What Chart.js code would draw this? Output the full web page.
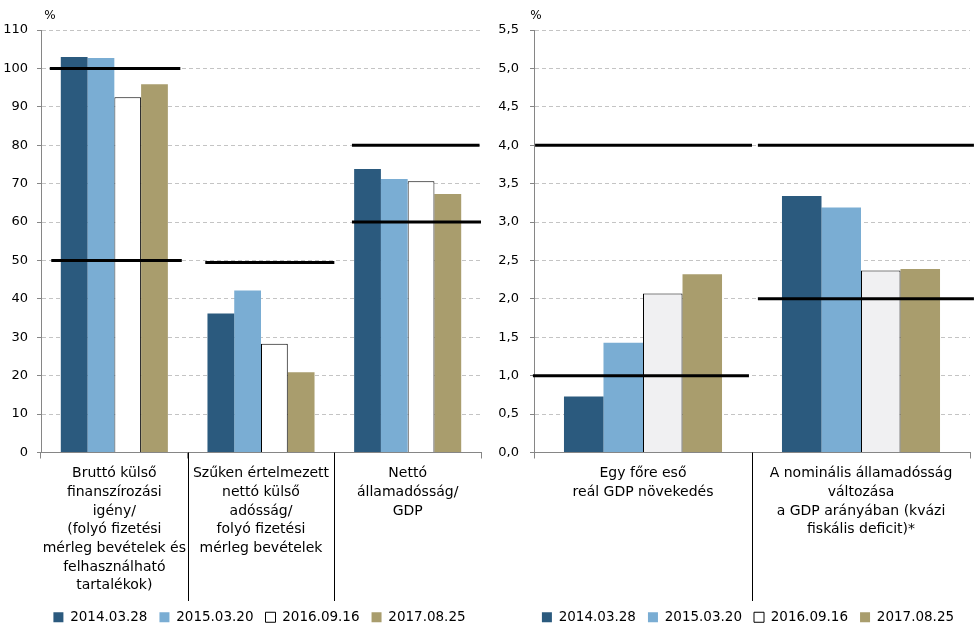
<!DOCTYPE html>
<html lang="hu">
<head>
    <meta charset="UTF-8">
    <title>Indikátorok</title>
    <script src="https://cdn.jsdelivr.net/npm/chart.js"></script>
    <style>
        body {
            margin: 0;
            background: #ffffff;
            font-family: "DejaVu Sans", sans-serif;
        }
        .panel {
            position: absolute;
            top: 0;
            height: 637px;
        }
        #leftPanel { left: 0; width: 490px; }
        #rightPanel { left: 490px; width: 487px; }
    </style>
</head>
<body>

    <div class="panel" id="leftPanel"><canvas id="leftChart"></canvas></div>
    <div class="panel" id="rightPanel"><canvas id="rightChart"></canvas></div>

    <script>
        // series names
        const seriesNames = ["2014.03.28", "2015.03.20", "2016.09.16", "2017.08.25"];

        // left panel
        const leftCategories = [
            ["Bruttó külső", "finanszírozási", "igény/", "(folyó fizetési", "mérleg bevételek és", "felhasználható", "tartalékok)"],
            ["Szűken értelmezett", "nettó külső", "adósság/", "folyó fizetési", "mérleg bevételek"],
            ["Nettó", "államadósság/", "GDP"]
        ];
        const left2014 = [103.0, 36.2, 73.8];
        const left2015 = [102.7, 42.2, 71.2];
        const left2016 = [92.5, 28.3, 70.6];
        const left2017 = [95.9, 20.9, 67.3];
        // threshold segments: value, start and end in category units
        const leftLimitValue = [100, 50, 49.5, 80, 60];
        const leftLimitFrom = [-0.44, -0.43, 0.62, 1.62, 1.62];
        const leftLimitTo = [0.45, 0.46, 1.5, 2.49, 2.5];
        const leftTicks = { min: 0, max: 110, step: 10 };

        // right panel
        const rightCategories = [
            ["Egy főre eső", "reál GDP növekedés"],
            ["A nominális államadósság", "változása", "a GDP arányában (kvázi", "fiskális deficit)*"]
        ];
        const right2014 = [0.73, 3.34];
        const right2015 = [1.43, 3.19];
        const right2016 = [2.07, 2.37];
        const right2017 = [2.32, 2.39];
        const rightLimitValue = [4.0, 4.0, 1.0, 2.0];
        const rightLimitFrom = [-0.495, 0.527, -0.505, 0.527];
        const rightLimitTo = [0.5, 1.518, 0.486, 1.518];
        const rightTicks = { min: 0, max: 5.5, step: 0.5 };

        const colors = ["#2b5a7e", "#7aadd3", "#ffffff", "#a99d6d"];
        const tickFont = { family: "DejaVu Sans", size: 13 };

        // threshold segments, "%" unit label, long separators, legend offset
        const extrasPlugin = {
            id: "extras",
            afterLayout(chart, args, opts) {
                if (chart.legend) {
                    chart.legend.left += opts.legendShift;
                    chart.legend.right += opts.legendShift;
                }
            },
            afterDatasetsDraw(chart, args, opts) {
                const ctx = chart.ctx;
                const x = chart.scales.x;
                const y = chart.scales.y;
                const step = x.getPixelForValue(1) - x.getPixelForValue(0);
                const x0 = x.getPixelForValue(0);
                ctx.save();
                ctx.strokeStyle = "#000";
                ctx.lineWidth = 3;
                opts.limitValue.forEach(function (v, i) {
                    const py = y.getPixelForValue(v);
                    ctx.beginPath();
                    ctx.moveTo(x0 + opts.limitFrom[i] * step, py);
                    ctx.lineTo(x0 + opts.limitTo[i] * step, py);
                    ctx.stroke();
                });
                ctx.restore();
            },
            afterDraw(chart, args, opts) {
                const ctx = chart.ctx;
                const area = chart.chartArea;
                const x = chart.scales.x;
                ctx.save();
                ctx.fillStyle = "#000";
                ctx.font = "12px 'DejaVu Sans'";
                ctx.textAlign = "center";
                ctx.textBaseline = "middle";
                ctx.fillText("%", area.left + opts.unitOffset, 16);

                ctx.strokeStyle = "#000";
                ctx.lineWidth = 1;
                for (let i = 0; i < x.ticks.length - 1; i++) {
                    const px = Math.round((x.getPixelForValue(i) + x.getPixelForValue(i + 1)) / 2) + 0.5;
                    ctx.beginPath();
                    ctx.moveTo(px, area.bottom);
                    ctx.lineTo(px, 601);
                    ctx.stroke();
                }
                ctx.restore();
            }
        };

        function makeChart(canvasId, cfg) {
            const barSets = [cfg.s2014, cfg.s2015, cfg.s2016, cfg.s2017].map(function (data, i) {
                return {
                    label: seriesNames[i],
                    data: data,
                    backgroundColor: i === 2 ? cfg.whiteFill : colors[i],
                    borderColor: "#000",
                    borderWidth: i === 2 ? 1 : 0
                };
            });

            return new Chart(document.getElementById(canvasId), {
                type: "bar",
                data: {
                    labels: cfg.categories,
                    datasets: barSets
                },
                plugins: [extrasPlugin],
                options: {
                    responsive: true,
                    maintainAspectRatio: false,
                    animation: false,
                    categoryPercentage: cfg.groupWidth,
                    barPercentage: 1.0,
                    layout: {
                        padding: { top: 30, left: 0, right: cfg.padRight, bottom: 3 }
                    },
                    plugins: {
                        tooltip: { enabled: false },
                        extras: {
                            unitOffset: cfg.unitOffset,
                            legendShift: cfg.legendShift,
                            limitValue: cfg.limitValue,
                            limitFrom: cfg.limitFrom,
                            limitTo: cfg.limitTo
                        },
                        legend: {
                            position: "bottom",
                            labels: {
                                font: { family: "DejaVu Sans", size: 13.5 },
                                color: "#000",
                                boxWidth: 10,
                                boxHeight: 10,
                                padding: 12,
                                generateLabels: function (chart) {
                                    const items = Chart.defaults.plugins.legend.labels.generateLabels(chart);
                                    items.forEach(function (it) {
                                        if (it.text === seriesNames[2]) it.fillStyle = "#ffffff";
                                    });
                                    return items;
                                }
                            }
                        }
                    },
                    scales: {
                        x: {
                            type: "category",
                            offset: true,
                            grid: {
                                offset: true,
                                drawOnChartArea: false,
                                drawTicks: true,
                                tickLength: 6,
                                tickColor: "#868686"
                            },
                            border: { color: "#868686", width: 1 },
                            ticks: {
                                font: { family: "DejaVu Sans", size: 14, lineHeight: 1.33 },
                                color: "#000",
                                padding: 6,
                                maxRotation: 0,
                                autoSkip: false
                            },
                            afterFit: function (scale) { scale.height = 146; }
                        },
                        y: {
                            min: cfg.ticks.min,
                            max: cfg.ticks.max,
                            ticks: {
                                stepSize: cfg.ticks.step,
                                font: tickFont,
                                color: "#000",
                                padding: cfg.tickPad,
                                callback: cfg.tickFormat
                            },
                            grid: {
                                color: "#c4c4c4",
                                tickColor: "#868686",
                                tickLength: 4
                            },
                            border: { color: "#868686", width: 1, dash: [4, 3] },
                            afterFit: function (scale) { scale.width = cfg.axisWidth; }
                        }
                    }
                }
            });
        }

        makeChart("leftChart", {
            categories: leftCategories,
            s2014: left2014, s2015: left2015, s2016: left2016, s2017: left2017,
            limitValue: leftLimitValue, limitFrom: leftLimitFrom, limitTo: leftLimitTo,
            ticks: leftTicks,
            tickFormat: function (v) { return String(v); },
            whiteFill: "#ffffff",
            groupWidth: 0.73,
            padRight: 9, axisWidth: 41, tickPad: 9,
            unitOffset: 9, legendShift: 19
        });

        makeChart("rightChart", {
            categories: rightCategories,
            s2014: right2014, s2015: right2015, s2016: right2016, s2017: right2017,
            limitValue: rightLimitValue, limitFrom: rightLimitFrom, limitTo: rightLimitTo,
            ticks: rightTicks,
            tickFormat: function (v) { return v.toFixed(1).replace(".", ","); },
            whiteFill: "#f0f0f2",
            groupWidth: 0.725,
            padRight: 7, axisWidth: 44, tickPad: 11,
            unitOffset: 2, legendShift: 18
        });
    </script>

</body>
</html>
